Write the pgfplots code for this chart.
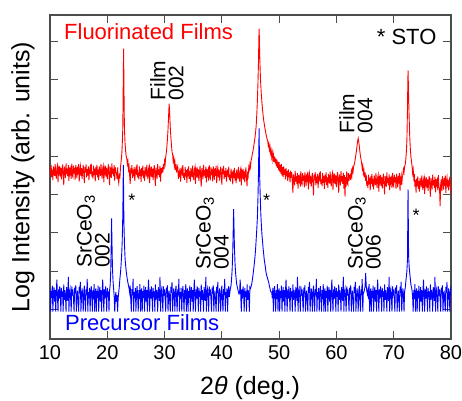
\documentclass[border=0pt]{standalone}
\usepackage{pgfplots}
\pgfplotsset{compat=1.18}
\usepackage{fontspec}
\setmainfont{Liberation Sans}

\begin{document}
\begin{tikzpicture}
  % fixes the page to the reference size
  \path[use as bounding box] (-50pt,-61pt) rectangle (412pt,339pt);
  \begin{axis}[
      at={(0,0)}, anchor=south west,
      scale only axis, width=401pt, height=324pt,
      xmin=10, xmax=80, ymin=0.225, ymax=8.697,
      xtick={10,20,...,80},
      ytick={1,2,...,8}, yticklabels={},
      tick align=inside, xtick pos=both, ytick pos=both,
      major tick length=8pt,
      axis line style={black!70, line width=1.1pt},
      tick style={black!70, line width=1.1pt},
      /pgf/number format/assume math mode=true,
      tick label style={font=\fontsize{20}{20}\selectfont},
      xticklabel style={yshift=-3pt},
      xlabel={2\textit{θ} (deg.)},
      ylabel={Log Intensity (arb. units)},
      label style={font=\fontsize{25}{25}\selectfont},
      xlabel style={at={(axis description cs:0.499,-0.170)}, anchor=base, inner sep=0pt},
      ylabel style={at={(axis description cs:-0.0673,0.5)}, anchor=center, inner sep=0pt},
    ]

    % Fluorinated films
    \addplot[red, line width=0.9pt] coordinates {
      (10.0,4.72) (10.1,4.52) (10.2,4.78) (10.3,4.45) (10.4,4.65) (10.5,4.38) (10.6,4.74) (10.7,4.62) (10.8,4.49) (10.9,4.80)
      (11.0,4.55) (11.1,4.42) (11.2,4.69) (11.3,4.76) (11.4,4.32) (11.5,4.67) (11.6,4.58) (11.7,4.75) (11.8,4.47) (11.9,4.70)
      (12.0,4.40) (12.1,4.64) (12.2,4.79) (12.3,4.51) (12.4,4.25) (12.5,4.73) (12.6,4.61) (12.7,4.44) (12.8,4.82) (12.9,4.54)
      (13.0,4.68) (13.1,4.48) (13.2,4.77) (13.3,4.36) (13.4,4.71) (13.5,4.57) (13.6,4.66) (13.7,4.41) (13.8,4.81) (13.9,4.50)
      (14.0,4.46) (14.1,4.76) (14.2,4.56) (14.3,4.70) (14.4,4.39) (14.5,4.78) (14.6,4.63) (14.7,4.43) (14.8,4.73) (14.9,4.53)
      (15.0,4.80) (15.1,4.34) (15.2,4.65) (15.3,4.75) (15.4,4.49) (15.5,4.69) (15.6,4.41) (15.7,4.62) (15.8,4.77) (15.9,4.52)
      (16.0,4.30) (16.1,4.72) (16.2,4.58) (16.3,4.79) (16.4,4.45) (16.5,4.67) (16.6,4.50) (16.7,4.74) (16.8,4.38) (16.9,4.64)
      (17.0,4.71) (17.1,4.54) (17.2,4.81) (17.3,4.47) (17.4,4.60) (17.5,4.42) (17.6,4.76) (17.7,4.51) (17.8,4.68) (17.9,4.35)
      (18.0,4.72) (18.1,4.52) (18.2,4.78) (18.3,4.45) (18.4,4.65) (18.5,4.38) (18.6,4.74) (18.7,4.62) (18.8,4.49) (18.9,4.80)
      (19.0,4.55) (19.1,4.42) (19.2,4.69) (19.3,4.76) (19.4,4.32) (19.5,4.67) (19.6,4.58) (19.7,4.75) (19.8,4.47) (19.9,4.70)
      (20.0,4.40) (20.1,4.64) (20.2,4.79) (20.3,4.51) (20.4,4.25) (20.5,4.73) (20.6,4.61) (20.7,4.44) (20.8,4.82) (20.9,4.54)
      (21.0,4.68) (21.1,4.48) (21.2,4.77) (21.3,4.36) (21.4,4.71) (21.5,4.57) (21.6,4.56) (21.7,4.41) (21.8,4.71) (21.9,4.40)
      (22.0,4.30) (22.1,4.55) (22.2,4.42) (22.3,4.70) (22.4,4.85) (22.5,5.00) (22.6,5.25) (22.7,5.70) (22.75,6.30) (22.8,7.20)
      (22.85,7.82) (22.9,7.00) (22.95,6.20) (23.0,5.70) (23.1,5.35) (23.2,5.15) (23.3,5.00) (23.4,4.95) (23.5,4.80) (23.6,4.88)
      (23.7,4.66) (23.8,4.74)
      (24.0,4.28) (24.1,4.70) (24.2,4.56) (24.3,4.77) (24.4,4.43) (24.5,4.65) (24.6,4.48) (24.7,4.72) (24.8,4.36) (24.9,4.62)
      (25.0,4.69) (25.1,4.52) (25.2,4.79) (25.3,4.45) (25.4,4.58) (25.5,4.40) (25.6,4.74) (25.7,4.49) (25.8,4.66) (25.9,4.33)
      (26.0,4.70) (26.1,4.50) (26.2,4.76) (26.3,4.43) (26.4,4.63) (26.5,4.36) (26.6,4.72) (26.7,4.60) (26.8,4.47) (26.9,4.78)
      (27.0,4.53) (27.1,4.40) (27.2,4.67) (27.3,4.74) (27.4,4.30) (27.5,4.65) (27.6,4.56) (27.7,4.73) (27.8,4.45) (27.9,4.68)
      (28.0,4.38) (28.1,4.62) (28.2,4.77) (28.3,4.49) (28.4,4.23) (28.5,4.71) (28.6,4.59) (28.7,4.42) (28.8,4.80) (28.9,4.52)
      (29.0,4.66) (29.1,4.46) (29.2,4.75) (29.3,4.34) (29.4,4.69) (29.5,4.55)
      (29.6,4.72) (29.7,4.58) (29.8,4.80) (29.9,4.66) (30.0,4.88) (30.1,4.80) (30.2,4.98) (30.3,5.10) (30.4,5.25) (30.5,5.45)
      (30.6,5.70) (30.7,6.05) (30.8,6.38) (30.9,6.10) (31.0,5.75) (31.1,5.50) (31.2,5.30) (31.3,5.12) (31.4,5.05) (31.5,4.88)
      (31.6,4.96) (31.7,4.76) (31.8,4.86) (31.9,4.64) (32.0,4.80) (32.1,4.58) (32.2,4.70)
      (32.3,4.75) (32.4,4.41) (32.5,4.63) (32.6,4.46) (32.7,4.70) (32.8,4.34) (32.9,4.60) (33.0,4.67) (33.1,4.50) (33.2,4.77)
      (33.3,4.43) (33.4,4.56) (33.5,4.38) (33.6,4.72) (33.7,4.47) (33.8,4.64) (33.9,4.31)
      (34.0,4.68) (34.1,4.48) (34.2,4.74) (34.3,4.41) (34.4,4.61) (34.5,4.34) (34.6,4.70) (34.7,4.58) (34.8,4.45) (34.9,4.76)
      (35.0,4.51) (35.1,4.38) (35.2,4.65) (35.3,4.72) (35.4,4.28) (35.5,4.63) (35.6,4.54) (35.7,4.71) (35.8,4.43) (35.9,4.66)
      (36.0,4.36) (36.1,4.60) (36.2,4.75) (36.3,4.47) (36.4,4.21) (36.5,4.69) (36.6,4.57) (36.7,4.40) (36.8,4.78) (36.9,4.50)
      (37.0,4.64) (37.1,4.44) (37.2,4.73) (37.3,4.32) (37.4,4.67) (37.5,4.53) (37.6,4.62) (37.7,4.37) (37.8,4.77) (37.9,4.46)
      (38.0,4.42) (38.1,4.72) (38.2,4.52) (38.3,4.66) (38.4,4.35) (38.5,4.74) (38.6,4.59) (38.7,4.39) (38.8,4.69) (38.9,4.49)
      (39.0,4.76) (39.1,4.30) (39.2,4.61) (39.3,4.71) (39.4,4.45) (39.5,4.65) (39.6,4.37) (39.7,4.58) (39.8,4.73) (39.9,4.48)
      (40.0,4.26) (40.1,4.68) (40.2,4.54) (40.3,4.75) (40.4,4.41) (40.5,4.63) (40.6,4.46) (40.7,4.70) (40.8,4.34) (40.9,4.60)
      (41.0,4.63) (41.1,4.46) (41.2,4.73) (41.3,4.39) (41.4,4.52) (41.5,4.34) (41.6,4.68) (41.7,4.43) (41.8,4.60) (41.9,4.27)
      (42.0,4.64) (42.1,4.44) (42.2,4.70) (42.3,4.37) (42.4,4.57) (42.5,4.30) (42.6,4.66) (42.7,4.54) (42.8,4.41) (42.9,4.72)
      (43.0,4.47) (43.1,4.34) (43.2,4.61) (43.3,4.68) (43.4,4.24) (43.5,4.59) (43.6,4.50) (43.7,4.67) (43.8,4.39) (43.9,4.62)
      (44.0,4.32) (44.1,4.56) (44.2,4.71) (44.3,4.43)
      (44.4,4.22) (44.5,4.60) (44.6,4.50) (44.7,4.72) (44.8,4.65) (44.9,4.80) (45.0,4.72) (45.1,4.90) (45.2,4.95) (45.3,5.05)
      (45.4,5.12) (45.5,5.20) (45.6,5.30) (45.7,5.40) (45.8,5.52) (45.9,5.65) (46.0,5.82) (46.1,6.10) (46.2,6.45) (46.3,6.90)
      (46.4,7.50) (46.45,8.00) (46.5,8.34) (46.55,8.10) (46.6,7.70) (46.7,7.20) (46.8,6.85) (46.9,6.60) (47.0,6.40) (47.1,6.22)
      (47.2,6.08) (47.3,5.95) (47.4,5.85) (47.5,5.75) (47.6,5.68) (47.7,5.58) (47.8,5.52) (47.9,5.45) (48.0,5.40) (48.1,5.28)
      (48.2,5.34) (48.3,5.18) (48.4,5.26) (48.5,5.08) (48.6,5.16) (48.7,4.98) (48.8,5.10) (48.9,4.92) (49.0,5.04) (49.1,4.86)
      (49.2,5.00) (49.3,4.82) (49.4,4.95) (49.5,4.74) (49.6,4.92) (49.7,4.70) (49.8,4.86) (49.9,4.64) (50.0,4.85) (50.1,4.60)
      (50.2,4.78) (50.3,4.55) (50.4,4.80) (50.5,4.50) (50.6,4.72) (50.7,4.46) (50.8,4.74) (50.9,4.52) (51.0,4.66) (51.1,4.40)
      (51.2,4.70) (51.3,4.48) (51.4,4.62) (51.5,4.36) (51.6,4.66) (51.7,4.45) (51.8,4.58) (51.9,4.32) (52.0,4.62)
      (52.1,4.44) (52.2,4.59) (52.3,4.31) (52.4,4.05) (52.5,4.53) (52.6,4.41) (52.7,4.24) (52.8,4.62) (52.9,4.34) (53.0,4.48)
      (53.1,4.28) (53.2,4.57) (53.3,4.16) (53.4,4.51) (53.5,4.37) (53.6,4.46) (53.7,4.21) (53.8,4.61) (53.9,4.30) (54.0,4.26)
      (54.1,4.56) (54.2,4.36) (54.3,4.50) (54.4,4.19) (54.5,4.58) (54.6,4.43) (54.7,4.23) (54.8,4.53) (54.9,4.33) (55.0,4.60)
      (55.1,4.14) (55.2,4.45) (55.3,4.55) (55.4,4.29) (55.5,4.49) (55.6,4.21) (55.7,4.42) (55.8,4.57) (55.9,4.32) (56.0,3.98)
      (56.1,4.52) (56.2,4.38) (56.3,4.59) (56.4,4.25) (56.5,4.47) (56.6,4.30) (56.7,4.54) (56.8,4.18) (56.9,4.44) (57.0,4.51)
      (57.1,4.34) (57.2,4.61) (57.3,4.27) (57.4,4.40) (57.5,4.22) (57.6,4.56) (57.7,4.31) (57.8,4.48) (57.9,4.15)
      (58.0,4.52) (58.1,4.32) (58.2,4.58) (58.3,4.25) (58.4,4.45) (58.5,4.18) (58.6,4.54) (58.7,4.42) (58.8,4.29) (58.9,4.60)
      (59.0,4.35) (59.1,4.22) (59.2,4.49) (59.3,4.56) (59.4,4.12) (59.5,4.47) (59.6,4.38) (59.7,4.55) (59.8,4.27) (59.9,4.50)
      (60.0,4.20) (60.1,4.44) (60.2,4.59) (60.3,4.31) (60.4,4.05) (60.5,4.53) (60.6,4.41) (60.7,4.24) (60.8,4.62) (60.9,4.34)
      (61.0,4.48) (61.1,4.28) (61.2,4.57) (61.3,4.16) (61.4,4.51) (61.5,3.95) (61.6,4.46) (61.7,4.21) (61.8,4.61) (61.9,4.30)
      (62.0,4.26) (62.1,4.56) (62.2,4.36) (62.3,4.50)
      (62.4,4.52) (62.5,4.38) (62.6,4.60) (62.7,4.50) (62.8,4.68) (62.9,4.60) (63.0,4.74) (63.1,4.78) (63.2,4.85) (63.3,4.95)
      (63.4,5.05) (63.5,5.15) (63.6,5.28) (63.7,5.40) (63.8,5.47) (63.9,5.38) (64.0,5.25) (64.1,5.12) (64.2,5.00) (64.3,4.92)
      (64.4,4.82) (64.5,4.68) (64.6,4.76) (64.7,4.56) (64.8,4.64) (64.9,4.45) (65.0,4.58) (65.1,4.36) (65.2,4.52)
      (65.3,4.23) (65.4,4.36) (65.5,4.18) (65.6,4.52) (65.7,4.27) (65.8,4.44) (65.9,4.11)
      (66.0,4.48) (66.1,4.28) (66.2,4.54) (66.3,4.21) (66.4,4.41) (66.5,4.14) (66.6,4.50) (66.7,4.38) (66.8,4.25) (66.9,4.56)
      (67.0,4.31) (67.1,4.18) (67.2,4.45) (67.3,4.52) (67.4,4.08) (67.5,4.43) (67.6,4.34) (67.7,4.51) (67.8,4.23) (67.9,4.46)
      (68.0,4.16) (68.1,4.40) (68.2,4.55) (68.3,4.27) (68.4,4.01) (68.5,4.49) (68.6,4.37) (68.7,4.20) (68.8,4.58) (68.9,4.30)
      (69.0,4.44) (69.1,4.24) (69.2,4.53) (69.3,4.12) (69.4,4.47) (69.5,4.33) (69.6,4.42) (69.7,4.17) (69.8,4.57) (69.9,4.26)
      (70.0,4.22) (70.1,4.52) (70.2,4.32) (70.3,4.46) (70.4,4.15) (70.5,4.54) (70.6,4.39) (70.7,4.19) (70.8,4.49) (70.9,4.29)
      (71.0,4.56) (71.1,4.10) (71.2,4.41) (71.3,4.51) (71.4,4.25) (71.5,4.45)
      (71.6,4.52) (71.7,4.66) (71.8,4.58) (71.9,4.74) (72.0,4.78) (72.1,4.90) (72.2,5.10) (72.3,5.40) (72.4,6.20) (72.45,6.80)
      (72.5,7.25) (72.55,6.95) (72.6,6.55) (72.7,6.00) (72.8,5.50) (72.9,5.20) (73.0,5.00) (73.1,4.88) (73.2,4.75) (73.3,4.56)
      (73.4,4.66) (73.5,4.44) (73.6,4.54)
      (73.7,4.21) (73.8,4.38) (73.9,4.05)
      (74.0,4.42) (74.1,4.22) (74.2,4.48) (74.3,4.15) (74.4,4.35) (74.5,4.08) (74.6,4.44) (74.7,4.32) (74.8,4.19) (74.9,4.50)
      (75.0,4.25) (75.1,4.12) (75.2,4.39) (75.3,4.46) (75.4,4.02) (75.5,4.37) (75.6,4.28) (75.7,4.45) (75.8,4.17) (75.9,4.40)
      (76.0,4.10) (76.1,4.34) (76.2,4.49) (76.3,4.21) (76.4,3.95) (76.5,4.43) (76.6,4.31) (76.7,4.14) (76.8,4.52) (76.9,4.24)
      (77.0,4.38) (77.1,4.18) (77.2,4.47) (77.3,4.06) (77.4,4.41) (77.5,4.27) (77.6,4.36) (77.7,4.11) (77.8,4.51) (77.9,4.20)
      (78.0,4.16) (78.1,3.70) (78.2,4.26) (78.3,4.40) (78.4,4.09) (78.5,4.48) (78.6,4.33) (78.7,4.13) (78.8,4.43) (78.9,4.23)
      (79.0,4.50) (79.1,4.04) (79.2,4.35) (79.3,4.45) (79.4,4.19) (79.5,4.39) (79.6,4.11) (79.7,4.32) (79.8,4.47) (79.9,4.22)
      (80.0,4.00)
    };

    % Precursor films
    \addplot[blue, line width=0.9pt] coordinates {
      (10.0,1.55) (10.1,0.94) (10.2,1.48) (10.3,1.30) (10.4,1.62) (10.5,0.94) (10.6,1.42) (10.7,1.58) (10.8,1.20) (10.9,1.50)
      (11.0,0.94) (11.1,1.45) (11.2,1.78) (11.3,1.35) (11.4,0.94) (11.5,1.52) (11.6,1.28) (11.7,1.60) (11.8,1.40) (11.9,0.94)
      (12.0,1.56) (12.1,1.33) (12.2,1.47) (12.3,0.94) (12.4,1.65) (12.5,1.25) (12.6,1.50) (12.7,1.38) (12.8,0.94) (12.9,1.58)
      (13.0,1.44) (13.1,1.22) (13.2,1.85) (13.3,0.94) (13.4,1.46) (13.5,1.54) (13.6,1.30) (13.7,0.94) (13.8,1.60) (13.9,1.36)
      (14.0,1.52) (14.1,1.26) (14.2,0.94) (14.3,1.57) (14.4,1.41) (14.5,1.63) (14.6,0.94) (14.7,1.34) (14.8,1.49) (14.9,1.21)
      (15.0,0.94) (15.1,1.59) (15.2,1.43) (15.3,1.72) (15.4,0.94) (15.5,1.31) (15.6,1.55) (15.7,1.39) (15.8,0.94) (15.9,1.47)
      (16.0,1.62) (16.1,1.24) (16.2,0.94) (16.3,1.53) (16.4,1.37) (16.5,1.80) (16.6,0.94) (16.7,1.45) (16.8,1.29) (16.9,1.56)
      (17.0,0.94) (17.1,1.42) (17.2,1.61) (17.3,1.33) (17.4,0.94) (17.5,1.50) (17.6,1.27) (17.7,1.66) (17.8,0.94) (17.9,1.44)
      (18.0,1.55) (18.1,0.94) (18.2,1.48) (18.3,1.30) (18.4,1.62) (18.5,0.94) (18.6,1.42) (18.7,1.58) (18.8,1.20) (18.9,1.50)
      (19.0,0.94) (19.1,1.45) (19.2,1.78) (19.3,1.35) (19.4,0.94) (19.5,1.52) (19.6,1.28) (19.7,1.60) (19.8,1.40) (19.9,0.94)
      (20.0,1.56) (20.1,1.33) (20.2,1.47) (20.3,0.94)
      (20.4,1.50) (20.5,1.62) (20.6,2.00) (20.7,2.80) (20.75,3.38) (20.8,2.90) (20.9,2.10) (21.0,1.75) (21.1,1.55) (21.2,1.35)
      (21.3,0.94) (21.4,1.30) (21.5,1.45) (21.6,1.20) (21.7,1.38) (21.8,0.94) (21.9,1.30) (22.0,1.45) (22.1,1.60) (22.2,1.80)
      (22.3,1.95) (22.4,2.15) (22.5,2.40) (22.6,2.75) (22.7,3.40) (22.75,4.00) (22.8,4.77) (22.85,4.10) (22.9,3.30) (23.0,2.70)
      (23.1,2.35) (23.2,2.15) (23.3,2.00) (23.4,1.88) (23.5,1.78) (23.6,1.70) (23.7,1.62) (23.8,1.55) (23.9,1.44)
      (24.0,1.62) (24.1,1.24) (24.2,0.94) (24.3,1.53) (24.4,1.37) (24.5,1.80) (24.6,0.94) (24.7,1.45) (24.8,1.29) (24.9,1.56)
      (25.0,0.94) (25.1,1.42) (25.2,1.61) (25.3,1.33) (25.4,0.94) (25.5,1.50) (25.6,1.27) (25.7,1.66) (25.8,0.94) (25.9,1.44)
      (26.0,1.55) (26.1,0.94) (26.2,1.48) (26.3,1.30) (26.4,1.62) (26.5,0.94) (26.6,1.42) (26.7,1.58) (26.8,1.20) (26.9,1.50)
      (27.0,0.94) (27.1,1.45) (27.2,1.78) (27.3,1.35) (27.4,0.94) (27.5,1.52) (27.6,1.28) (27.7,1.60) (27.8,1.40) (27.9,0.94)
      (28.0,1.56) (28.1,1.33) (28.2,1.47) (28.3,0.94) (28.4,1.65) (28.5,1.25) (28.6,1.50) (28.7,1.38) (28.8,0.94) (28.9,1.58)
      (29.0,1.44) (29.1,1.22) (29.2,1.85) (29.3,0.94) (29.4,1.46) (29.5,1.54) (29.6,1.30) (29.7,0.94) (29.8,1.60) (29.9,1.36)
      (30.0,1.52) (30.1,1.26) (30.2,0.94) (30.3,1.57) (30.4,1.41) (30.5,1.63) (30.6,0.94) (30.7,1.34) (30.8,1.49) (30.9,1.21)
      (31.0,0.94) (31.1,1.59) (31.2,1.43) (31.3,1.72) (31.4,0.94) (31.5,1.31) (31.6,1.55) (31.7,1.39) (31.8,0.94) (31.9,1.47)
      (32.0,1.62) (32.1,1.24) (32.2,0.94) (32.3,1.53) (32.4,1.37) (32.5,1.80) (32.6,0.94) (32.7,1.45) (32.8,1.29) (32.9,1.56)
      (33.0,0.94) (33.1,1.42) (33.2,1.61) (33.3,1.33) (33.4,0.94) (33.5,1.50) (33.6,1.27) (33.7,1.66) (33.8,0.94) (33.9,1.44)
      (34.0,1.55) (34.1,0.94) (34.2,1.48) (34.3,1.30) (34.4,1.62) (34.5,0.94) (34.6,1.42) (34.7,1.58) (34.8,1.20) (34.9,1.50)
      (35.0,0.94) (35.1,1.45) (35.2,1.78) (35.3,1.35) (35.4,0.94) (35.5,1.52) (35.6,1.28) (35.7,1.60) (35.8,1.40) (35.9,0.94)
      (36.0,1.56) (36.1,1.33) (36.2,1.47) (36.3,0.94) (36.4,1.65) (36.5,1.25) (36.6,1.50) (36.7,1.38) (36.8,0.94) (36.9,1.58)
      (37.0,1.44) (37.1,1.22) (37.2,1.85) (37.3,0.94) (37.4,1.46) (37.5,1.54) (37.6,1.30) (37.7,0.94) (37.8,1.60) (37.9,1.36)
      (38.0,1.52) (38.1,1.26) (38.2,0.94) (38.3,1.57) (38.4,1.41) (38.5,1.63) (38.6,0.94) (38.7,1.34) (38.8,1.49) (38.9,1.21)
      (39.0,0.94) (39.1,1.59) (39.2,1.43) (39.3,1.72) (39.4,0.94) (39.5,1.31) (39.6,1.55) (39.7,1.39) (39.8,0.94) (39.9,1.47)
      (40.0,1.62) (40.1,1.24) (40.2,0.94) (40.3,1.53) (40.4,1.37) (40.5,1.80) (40.6,0.94) (40.7,1.45) (40.8,1.29) (40.9,1.56)
      (41.0,0.94) (41.1,1.42) (41.2,1.61) (41.3,1.33)
      (41.4,1.45) (41.5,1.56) (41.6,1.62) (41.7,1.80) (41.8,2.05) (41.9,2.50) (42.0,3.20) (42.05,3.62) (42.1,3.30) (42.2,2.60)
      (42.3,2.20) (42.4,1.95) (42.5,1.78) (42.6,1.65) (42.7,1.58) (42.8,1.52) (42.9,1.44) (43.0,1.40)
      (43.1,1.45) (43.2,1.78) (43.3,1.35) (43.4,0.94) (43.5,1.52) (43.6,1.28) (43.7,1.60) (43.8,1.40) (43.9,0.94) (44.0,1.56)
      (44.1,1.33) (44.2,1.47) (44.3,0.94) (44.4,1.65) (44.5,1.25) (44.6,1.50) (44.7,1.38) (44.8,0.94) (44.9,1.58)
      (45.0,1.55) (45.1,1.60) (45.2,1.65) (45.3,1.75) (45.4,1.85) (45.5,1.98) (45.6,2.10) (45.7,2.25) (45.8,2.40) (45.9,2.60)
      (46.0,2.85) (46.1,3.10) (46.2,3.40) (46.3,3.90) (46.4,4.60) (46.45,5.20) (46.5,5.73) (46.55,5.10) (46.6,4.50) (46.7,3.95)
      (46.8,3.50) (46.9,3.20) (47.0,2.95) (47.1,2.78) (47.2,2.60) (47.3,2.45) (47.4,2.30) (47.5,2.20) (47.6,2.10) (47.7,1.98)
      (47.8,1.90) (47.9,1.85) (48.0,1.80) (48.1,1.74) (48.2,1.70) (48.3,1.60) (48.4,1.55) (48.5,1.48) (48.6,1.45)
      (48.7,1.45) (48.8,1.29) (48.9,1.56) (49.0,0.94) (49.1,1.42) (49.2,1.61) (49.3,1.33) (49.4,0.94) (49.5,1.50) (49.6,1.27)
      (49.7,1.66) (49.8,0.94) (49.9,1.44)
      (50.0,1.55) (50.1,0.94) (50.2,1.48) (50.3,1.30) (50.4,1.62) (50.5,0.94) (50.6,1.42) (50.7,1.58) (50.8,1.20) (50.9,1.50)
      (51.0,0.94) (51.1,1.45) (51.2,1.78) (51.3,1.35) (51.4,0.94) (51.5,1.52) (51.6,1.28) (51.7,1.60) (51.8,1.40) (51.9,0.94)
      (52.0,1.56) (52.1,1.33) (52.2,1.47) (52.3,0.94) (52.4,1.65) (52.5,1.25) (52.6,1.50) (52.7,1.38) (52.8,0.94) (52.9,1.58)
      (53.0,1.44) (53.1,1.22) (53.2,1.85) (53.3,0.94) (53.4,1.46) (53.5,1.54) (53.6,1.30) (53.7,0.94) (53.8,1.60) (53.9,1.36)
      (54.0,1.52) (54.1,1.26) (54.2,0.94) (54.3,1.57) (54.4,1.41) (54.5,1.63) (54.6,0.94) (54.7,1.34) (54.8,1.49) (54.9,1.21)
      (55.0,0.94) (55.1,1.59) (55.2,1.43) (55.3,1.72) (55.4,0.94) (55.5,1.31) (55.6,1.55) (55.7,1.39) (55.8,0.94) (55.9,1.47)
      (56.0,1.62) (56.1,1.24) (56.2,0.94) (56.3,1.53) (56.4,1.37) (56.5,1.80) (56.6,0.94) (56.7,1.45) (56.8,1.29) (56.9,1.56)
      (57.0,0.94) (57.1,1.42) (57.2,1.61) (57.3,1.33) (57.4,0.94) (57.5,1.50) (57.6,1.27) (57.7,1.66) (57.8,0.94) (57.9,1.44)
      (58.0,1.55) (58.1,0.94) (58.2,1.48) (58.3,1.30) (58.4,1.62) (58.5,0.94) (58.6,1.42) (58.7,1.58) (58.8,1.20) (58.9,1.50)
      (59.0,0.94) (59.1,1.45) (59.2,1.78) (59.3,1.35) (59.4,0.94) (59.5,1.52) (59.6,1.28) (59.7,1.60) (59.8,1.40) (59.9,0.94)
      (60.0,1.56) (60.1,1.33) (60.2,1.47) (60.3,0.94) (60.4,1.65) (60.5,1.25) (60.6,1.50) (60.7,1.38) (60.8,0.94) (60.9,1.58)
      (61.0,1.44) (61.1,1.22) (61.2,1.85) (61.3,0.94) (61.4,1.46) (61.5,1.54) (61.6,1.30) (61.7,0.94) (61.8,1.60) (61.9,1.36)
      (62.0,1.52) (62.1,1.26) (62.2,0.94) (62.3,1.57) (62.4,1.41) (62.5,1.63) (62.6,0.94) (62.7,1.34) (62.8,1.49) (62.9,1.21)
      (63.0,0.94) (63.1,1.59) (63.2,1.43) (63.3,1.72) (63.4,0.94) (63.5,1.31) (63.6,1.55) (63.7,1.39) (63.8,0.94) (63.9,1.47)
      (64.0,1.62) (64.1,1.24) (64.2,0.94) (64.3,1.53) (64.4,1.37) (64.5,1.80) (64.6,0.94) (64.7,1.45)
      (64.8,1.45) (64.9,1.52) (65.0,1.60) (65.1,1.95) (65.2,1.62) (65.3,1.48) (65.4,1.40)
      (65.5,1.50) (65.6,1.27) (65.7,1.66) (65.8,0.94) (65.9,1.44)
      (66.0,1.55) (66.1,0.94) (66.2,1.48) (66.3,1.30) (66.4,1.62) (66.5,0.94) (66.6,1.42) (66.7,1.58) (66.8,1.20) (66.9,1.50)
      (67.0,0.94) (67.1,1.45) (67.2,1.78) (67.3,1.35) (67.4,0.94) (67.5,1.52) (67.6,1.28) (67.7,1.60) (67.8,1.40) (67.9,0.94)
      (68.0,1.56) (68.1,1.33) (68.2,1.47) (68.3,0.94) (68.4,1.65) (68.5,1.25) (68.6,1.50) (68.7,1.38) (68.8,0.94) (68.9,1.58)
      (69.0,1.44) (69.1,1.22) (69.2,1.85) (69.3,0.94) (69.4,1.46) (69.5,1.54) (69.6,1.30) (69.7,0.94) (69.8,1.60) (69.9,1.36)
      (70.0,1.52) (70.1,1.26) (70.2,0.94) (70.3,1.57) (70.4,1.41) (70.5,1.63) (70.6,0.94) (70.7,1.34) (70.8,1.49) (70.9,1.21)
      (71.0,0.94) (71.1,1.59) (71.2,1.43) (71.3,1.72) (71.4,0.94) (71.5,1.31) (71.6,1.55) (71.7,1.39) (71.8,0.94) (71.9,1.47)
      (72.0,1.55) (72.1,1.70) (72.2,1.85) (72.3,2.00) (72.4,2.30) (72.45,3.20) (72.5,4.14) (72.55,3.30) (72.6,2.40) (72.7,2.10)
      (72.8,1.95) (72.9,1.80) (73.0,1.65) (73.1,1.58) (73.2,1.50)
      (73.3,1.33) (73.4,0.94) (73.5,1.50) (73.6,1.27) (73.7,1.66) (73.8,0.94) (73.9,1.44)
      (74.0,1.55) (74.1,0.94) (74.2,1.48) (74.3,1.30) (74.4,1.62) (74.5,0.94) (74.6,1.42) (74.7,1.58) (74.8,1.20) (74.9,1.50)
      (75.0,0.94) (75.1,1.45) (75.2,1.78) (75.3,1.35) (75.4,0.94) (75.5,1.52) (75.6,1.28) (75.7,1.60) (75.8,1.40) (75.9,0.94)
      (76.0,1.56) (76.1,1.33) (76.2,1.47) (76.3,0.94) (76.4,1.65) (76.5,1.25) (76.6,1.50) (76.7,1.38) (76.8,0.94) (76.9,1.58)
      (77.0,1.44) (77.1,1.22) (77.2,1.85) (77.3,0.94) (77.4,1.46) (77.5,1.54) (77.6,1.30) (77.7,0.94) (77.8,1.60) (77.9,1.36)
      (78.0,1.52) (78.1,1.26) (78.2,0.94) (78.3,1.57) (78.4,1.41) (78.5,1.63) (78.6,0.94) (78.7,1.34) (78.8,1.49) (78.9,1.21)
      (79.0,0.94) (79.1,1.59) (79.2,1.43) (79.3,1.72) (79.4,0.94) (79.5,1.31) (79.6,1.55) (79.7,1.39) (79.8,0.94) (79.9,1.47)
      (80.0,1.62)
    };

    % labels
    \node[red, anchor=base west, inner sep=0pt, font=\fontsize{22}{22}\selectfont]
      at (axis cs:12.44,8.05) {Fluorinated Films};
    \node[anchor=base east, inner sep=0pt, font=\fontsize{22}{22}\selectfont]
      at (axis cs:77.49,7.93) {* STO};
    \node[blue, anchor=base west, inner sep=0pt, font=\fontsize{22}{22}\selectfont]
      at (axis cs:12.62,0.44) {Precursor Films};

    \begin{scope}[every node/.style={rotate=90, anchor=west, inner sep=0pt, align=left,
        font=\fontsize{21}{18}\selectfont}]
      \node at (axis cs:30.42,6.46) {Film\\002};
      \node at (axis cs:63.40,5.60) {Film\\004};
      \node at (axis cs:17.58,2.08) {SrCeO\textsubscript{3}\\002};
      \node at (axis cs:38.36,2.03) {SrCeO\textsubscript{3}\\004};
      \node at (axis cs:64.88,2.03) {SrCeO\textsubscript{3}\\006};
    \end{scope}

    \begin{scope}[every node/.style={anchor=base, inner sep=0pt, font=\fontsize{18}{18}\selectfont}]
      \node at (axis cs:24.31,3.70) {*};
      \node at (axis cs:47.81,3.68) {*};
      \node at (axis cs:73.92,3.31) {*};
    \end{scope}
  \end{axis}
\end{tikzpicture}
\end{document}
